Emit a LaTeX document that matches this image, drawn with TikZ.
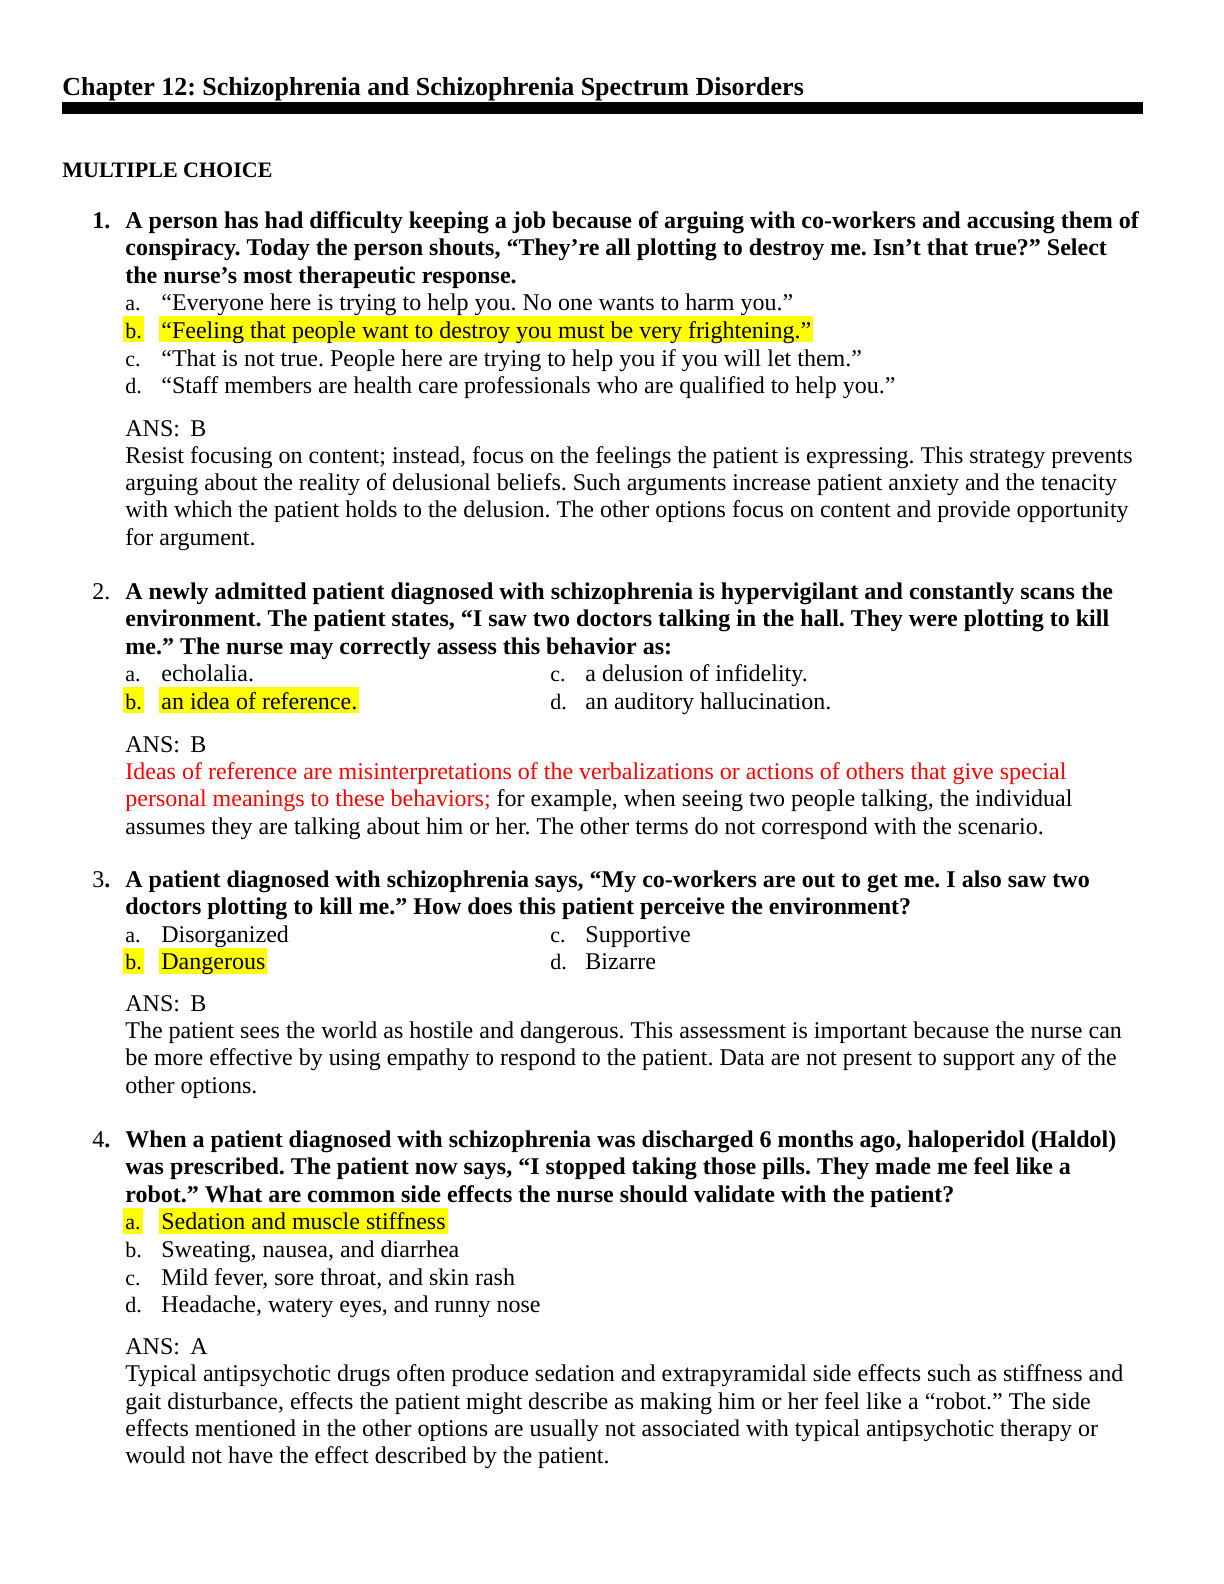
\documentclass[tikz,border=0pt]{standalone}
\usepackage{fontspec}
\setmainfont{Liberation Serif}
\frenchspacing
\definecolor{hlyellow}{RGB}{255,255,0}
\definecolor{ansred}{RGB}{255,0,0}
\tikzset{
  txt/.style={anchor=base west, inner sep=0pt, font=\fontsize{12}{13.8}\selectfont},
  qtxt/.style={txt, font=\fontsize{12}{13.8}\selectfont\bfseries},
  lbl/.style={anchor=base west, inner sep=0pt, font=\fontsize{11}{13}\selectfont},
  hl/.style={fill=hlyellow, text height=11pt, text depth=2pt, inner ysep=0pt, inner xsep=1pt},
  redtxt/.style={txt, text=ansred}
}
\begin{document}
\begin{tikzpicture}[x=0.5pt,y=-0.5pt]
\useasboundingbox (0,0) rectangle (1224,1584);
\fill[white] (0,0) rectangle (1224,1584);
% title
\node[anchor=base west, inner sep=0pt, font=\fontsize{13}{15}\selectfont\bfseries] (title) at (62,96) {Chapter 12: Schizophrenia and Schizophrenia Spectrum Disorders};
\fill[black] (62,102.5) rectangle (1143,114);
\node[anchor=base west, inner sep=0pt, font=\fontsize{11}{13}\selectfont\bfseries] (mc) at (62,177) {MULTIPLE CHOICE};
% ---------------- Q1
\node[qtxt] (n1) at (92,228) {1.};
\node[qtxt] (q1a) at (125,228) {A person has had difficulty keeping a job because of arguing with co-workers and accusing them of};
\node[qtxt] (q1b) at (125,255.6) {conspiracy. Today the person shouts, “They’re all plotting to destroy me. Isn’t that true?” Select};
\node[qtxt] (q1c) at (125,283.2) {the nurse’s most therapeutic response.};
\node[lbl] (q1la) at (125,310.8) {a.};
\node[txt] (q1oa) at (161,310.8) {“Everyone here is trying to help you. No one wants to harm you.”};
\node[lbl,hl,anchor=base west] (q1lb) at (123,338.4) {b.};
\node[txt,hl,anchor=base west] (q1ob) at (159,338.4) {“Feeling that people want to destroy you must be very frightening.”};
\node[lbl] (q1lc) at (125,366) {c.};
\node[txt] (q1oc) at (161,366) {“That is not true. People here are trying to help you if you will let them.”};
\node[lbl] (q1ld) at (125,393.6) {d.};
\node[txt] (q1od) at (161,393.6) {“Staff members are health care professionals who are qualified to help you.”};
\node[txt] (a1) at (125,436) {ANS:};
\node[txt] (a1v) at (190,436) {B};
\node[txt] (e1a) at (125,463) {Resist focusing on content; instead, focus on the feelings the patient is expressing. This strategy prevents};
\node[txt] (e1b) at (125,490.3) {arguing about the reality of delusional beliefs. Such arguments increase patient anxiety and the tenacity};
\node[txt] (e1c) at (125,517.6) {with which the patient holds to the delusion. The other options focus on content and provide opportunity};
\node[txt] (e1d) at (125,545) {for argument.};
% ---------------- Q2
\node[txt] (n2) at (92,599) {2.};
\node[qtxt] (q2a) at (125,599) {A newly admitted patient diagnosed with schizophrenia is hypervigilant and constantly scans the};
\node[qtxt] (q2b) at (125,626.6) {environment. The patient states, “I saw two doctors talking in the hall. They were plotting to kill};
\node[qtxt] (q2c) at (125,654.2) {me.” The nurse may correctly assess this behavior as:};
\node[lbl] (q2la) at (125,681.8) {a.};
\node[txt] (q2oa) at (161,681.8) {echolalia.};
\node[lbl,hl,anchor=base west] (q2lb) at (123,709.4) {b.};
\node[txt,hl,anchor=base west] (q2ob) at (159,709.4) {an idea of reference.};
\node[lbl] (q2lc) at (550,681.8) {c.};
\node[txt] (q2oc) at (585,681.8) {a delusion of infidelity.};
\node[lbl] (q2ld) at (550,709.4) {d.};
\node[txt] (q2od) at (585,709.4) {an auditory hallucination.};
\node[txt] (a2) at (125,752) {ANS:};
\node[txt] (a2v) at (190,752) {B};
\node[redtxt] (e2a) at (125,779) {Ideas of reference are misinterpretations of the verbalizations or actions of others that give special};
\node[txt] (e2b) at (125,806.5) {\textcolor{ansred}{personal meanings to these behaviors;} for example, when seeing two people talking, the individual};
\node[txt] (e2c) at (125,834) {assumes they are talking about him or her. The other terms do not correspond with the scenario.};
% ---------------- Q3
\node[txt] (n3) at (92,887) {3\textbf{.}};
\node[qtxt] (q3a) at (125,887) {A patient diagnosed with schizophrenia says, “My co-workers are out to get me. I also saw two};
\node[qtxt] (q3b) at (125,914.6) {doctors plotting to kill me.” How does this patient perceive the environment?};
\node[lbl] (q3la) at (125,942.2) {a.};
\node[txt] (q3oa) at (161,942.2) {Disorganized};
\node[lbl,hl,anchor=base west] (q3lb) at (123,969.8) {b.};
\node[txt,hl,anchor=base west] (q3ob) at (159,969.8) {Dangerous};
\node[lbl] (q3lc) at (550,942.2) {c.};
\node[txt] (q3oc) at (585,942.2) {Supportive};
\node[lbl] (q3ld) at (550,969.8) {d.};
\node[txt] (q3od) at (585,969.8) {Bizarre};
\node[txt] (a3) at (125,1011) {ANS:};
\node[txt] (a3v) at (190,1011) {B};
\node[txt] (e3a) at (125,1038.3) {The patient sees the world as hostile and dangerous. This assessment is important because the nurse can};
\node[txt] (e3b) at (125,1065.6) {be more effective by using empathy to respond to the patient. Data are not present to support any of the};
\node[txt] (e3c) at (125,1093) {other options.};
% ---------------- Q4
\node[txt] (n4) at (92,1147) {4\textbf{.}};
\node[qtxt] (q4a) at (125,1147) {When a patient diagnosed with schizophrenia was discharged 6 months ago, haloperidol (Haldol)};
\node[qtxt] (q4b) at (125,1174.6) {was prescribed. The patient now says, “I stopped taking those pills. They made me feel like a};
\node[qtxt] (q4c) at (125,1202.2) {robot.” What are common side effects the nurse should validate with the patient?};
\node[lbl,hl,anchor=base west] (q4la) at (123,1229.8) {a.};
\node[txt,hl,anchor=base west] (q4oa) at (159,1229.8) {Sedation and muscle stiffness};
\node[lbl] (q4lb) at (125,1257.4) {b.};
\node[txt] (q4ob) at (161,1257.4) {Sweating, nausea, and diarrhea};
\node[lbl] (q4lc) at (125,1285) {c.};
\node[txt] (q4oc) at (161,1285) {Mild fever, sore throat, and skin rash};
\node[lbl] (q4ld) at (125,1312.6) {d.};
\node[txt] (q4od) at (161,1312.6) {Headache, watery eyes, and runny nose};
\node[txt] (a4) at (125,1354.5) {ANS:};
\node[txt] (a4v) at (190,1354.5) {A};
\node[txt] (e4a) at (125,1381.8) {Typical antipsychotic drugs often produce sedation and extrapyramidal side effects such as stiffness and};
\node[txt] (e4b) at (125,1409.1) {gait disturbance, effects the patient might describe as making him or her feel like a “robot.” The side};
\node[txt] (e4c) at (125,1436.4) {effects mentioned in the other options are usually not associated with typical antipsychotic therapy or};
\node[txt] (e4d) at (125,1463.7) {would not have the effect described by the patient.};
\end{tikzpicture}
\end{document}
